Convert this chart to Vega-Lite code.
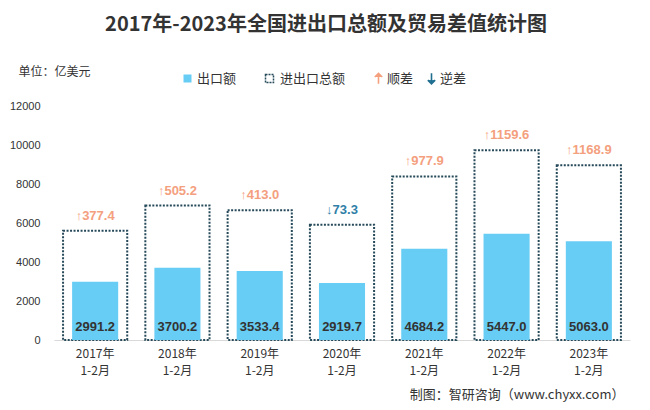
{
  "$schema": "https://vega.github.io/schema/vega-lite/v6.json",
  "width": 576,
  "height": 234,
  "autosize": {"type": "none"},
  "padding": {"left": 54, "top": 106, "right": 20, "bottom": 70},
  "background": "white",
  "title": {
    "text": "2017年-2023年全国进出口总额及贸易差值统计图",
    "font": "Noto Sans CJK SC",
    "fontSize": 20,
    "fontWeight": "bold",
    "color": "#333333",
    "anchor": "middle",
    "frame": "group",
    "dx": -16,
    "offset": 30
  },
  "data": {
    "values": [
      {"year": "2017", "export": 2991.2, "total": 5605.0, "balance": 377.4, "dir": "顺差"},
      {"year": "2018", "export": 3700.2, "total": 6895.2, "balance": 505.2, "dir": "顺差"},
      {"year": "2019", "export": 3533.4, "total": 6653.8, "balance": 413.0, "dir": "顺差"},
      {"year": "2020", "export": 2919.7, "total": 5912.7, "balance": 73.3, "dir": "逆差"},
      {"year": "2021", "export": 4684.2, "total": 8390.5, "balance": 977.9, "dir": "顺差"},
      {"year": "2022", "export": 5447.0, "total": 9734.4, "balance": 1159.6, "dir": "顺差"},
      {"year": "2023", "export": 5063.0, "total": 8957.1, "balance": 1168.9, "dir": "顺差"}
    ]
  },
  "transform": [
    {"calculate": "(datum.dir === '顺差' ? '↑' : '↓') + format(datum.balance, '.1f')", "as": "balLabel"}
  ],
  "encoding": {
    "x": {
      "field": "year",
      "type": "ordinal",
      "scale": {"paddingInner": 0, "paddingOuter": 0},
      "axis": {
        "title": "制图：智研咨询（www.chyxx.com）",
        "titleX": 570,
        "titleY": 54,
        "titleAlign": "right",
        "titleBaseline": "middle",
        "titleFontSize": 13,
        "titleFontWeight": "normal",
        "titleColor": "#333333",
        "titleFont": "Noto Sans CJK SC",
        "labelExpr": "[datum.label + '年', '1-2月']",
        "labelAngle": 0,
        "labelFontSize": 12,
        "labelLineHeight": 17,
        "labelPadding": 8,
        "labelColor": "#333333",
        "labelFont": "Noto Sans CJK SC",
        "ticks": false,
        "domainColor": "#D9D9D9",
        "domainWidth": 1
      }
    }
  },
  "layer": [
    {
      "mark": {"type": "bar", "width": {"band": 0.78}, "fill": "transparent", "strokeWidth": 2, "strokeDash": [2, 1.5]},
      "encoding": {
        "y": {
          "field": "total",
          "type": "quantitative",
          "scale": {"domain": [0, 12000], "nice": false},
          "axis": {
            "title": "单位：亿美元",
            "titleAngle": 0,
            "titleX": -36,
            "titleY": -35,
            "titleAlign": "left",
            "titleBaseline": "middle",
            "titleFontSize": 12,
            "titleFontWeight": "normal",
            "titleColor": "#333333",
            "titleFont": "Noto Sans CJK SC",
            "values": [0, 2000, 4000, 6000, 8000, 10000, 12000],
            "tickCount": 7,
            "format": "d",
            "labelOverlap": false
          }
        },
        "stroke": {
          "datum": "进出口总额",
          "type": "nominal",
          "scale": {"range": ["#264A5A"]},
          "legend": {
            "orient": "none",
            "legendX": 209,
            "legendY": -34,
            "title": null,
            "symbolType": "square",
            "symbolSize": 64,
            "symbolStrokeWidth": 1.5,
            "symbolDash": [2, 1],
            "symbolFillColor": "transparent",
            "labelFontSize": 13,
            "labelColor": "#333333",
            "labelFont": "Noto Sans CJK SC"
          }
        }
      }
    },
    {
      "mark": {"type": "bar", "width": {"band": 0.56}},
      "encoding": {
        "y": {"field": "export", "type": "quantitative"},
        "fill": {
          "datum": "出口额",
          "type": "nominal",
          "scale": {"range": ["#67CDF5"]},
          "legend": {
            "orient": "none",
            "legendX": 127,
            "legendY": -34,
            "title": null,
            "symbolType": "square",
            "symbolSize": 64,
            "labelOffset": 3,
            "labelFontSize": 13,
            "labelColor": "#333333",
            "labelFont": "Noto Sans CJK SC"
          }
        }
      }
    },
    {
      "mark": {"type": "text", "dy": -13, "baseline": "middle", "fontWeight": "bold", "fontSize": 13, "color": "#333333", "font": "Liberation Sans"},
      "encoding": {
        "y": {"datum": 0, "type": "quantitative"},
        "text": {"field": "export", "type": "quantitative", "format": ".1f"}
      }
    },
    {
      "mark": {"type": "text", "dy": -15, "baseline": "middle", "fontSize": 13, "fontWeight": "bold", "font": "Liberation Sans"},
      "encoding": {
        "y": {"field": "total", "type": "quantitative"},
        "text": {"field": "balLabel", "type": "nominal"},
        "color": {
          "field": "dir",
          "type": "nominal",
          "scale": {"domain": ["顺差", "逆差"], "range": ["#F4A07E", "#2F7FA8"]},
          "legend": {
            "orient": "none",
            "legendX": 318,
            "legendY": -34,
            "direction": "horizontal",
            "title": null,
            "columnPadding": 10,
            "symbolSize": 110,
            "labelOffset": 2,
            "labelFontSize": 13,
            "labelColor": "#333333",
            "labelFont": "Noto Sans CJK SC",
            "encode": {
              "symbols": {
                "update": {
                  "shape": {"signal": "datum.value === '顺差' ? 'M0,1L0,-1M-0.7,-0.3L0,-1L0.7,-0.3' : 'M0,-1L0,1M-0.7,0.3L0,1L0.7,0.3'"},
                  "stroke": {"signal": "datum.value === '顺差' ? '#F4A07E' : '#1F6E8E'"},
                  "fill": {"value": "transparent"},
                  "strokeWidth": {"value": 1.6}
                }
              }
            }
          }
        }
      }
    }
  ],
  "config": {
    "view": {"stroke": null},
    "axis": {"grid": false},
    "axisY": {
      "labelOverlap": false,
      "domain": false,
      "ticks": false,
      "grid": false,
      "labelPadding": 14,
      "labelFontSize": 11,
      "labelColor": "#333333",
      "labelFont": "Liberation Sans"
    }
  }
}
